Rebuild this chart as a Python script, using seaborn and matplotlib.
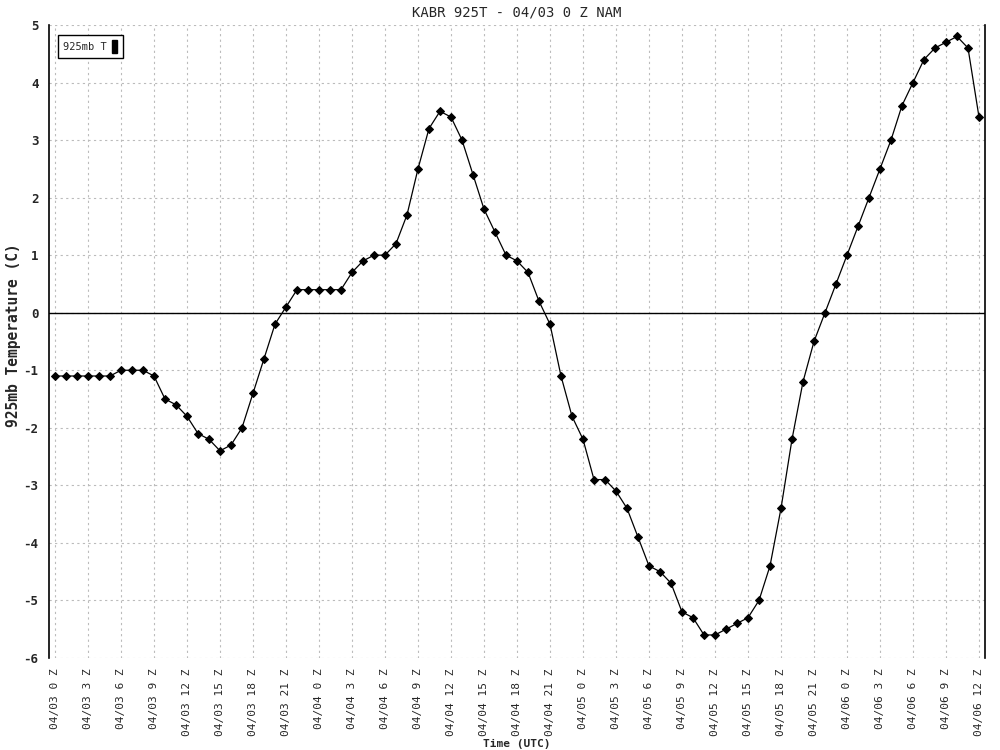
import numpy as np
import pandas as pd
import matplotlib
matplotlib.use("Agg")
import matplotlib.pyplot as plt
import seaborn as sns
from matplotlib.patches import Patch

# hourly 925mb temperatures, 04/03 0Z .. 04/06 12Z
temps = [-1.1, -1.1, -1.1, -1.1, -1.1, -1.1, -1.0, -1.0, -1.0, -1.1,
         -1.5, -1.6, -1.8, -2.1, -2.2, -2.4, -2.3, -2.0, -1.4, -0.8,
         -0.2, 0.1, 0.4, 0.4, 0.4, 0.4, 0.4, 0.7, 0.9, 1.0,
         1.0, 1.2, 1.7, 2.5, 3.2, 3.5, 3.4, 3.0, 2.4, 1.8,
         1.4, 1.0, 0.9, 0.7, 0.2, -0.2, -1.1, -1.8, -2.2, -2.9,
         -2.9, -3.1, -3.4, -3.9, -4.4, -4.5, -4.7, -5.2, -5.3, -5.6,
         -5.6, -5.5, -5.4, -5.3, -5.0, -4.4, -3.4, -2.2, -1.2, -0.5,
         0.0, 0.5, 1.0, 1.5, 2.0, 2.5, 3.0, 3.6, 4.0, 4.4,
         4.6, 4.7, 4.8, 4.6, 3.4]
hours = list(range(len(temps)))
days = ["04/03", "04/04", "04/05", "04/06"]

tick_pos = list(range(0, 85, 3))
tick_labels = [f"{days[h // 24]} {h % 24} Z" for h in tick_pos]

df = pd.DataFrame({"hour": hours, "temp": temps})

sns.set_style("white")
plt.rcParams["font.family"] = ["DejaVu Sans Mono"]

fig = plt.figure(figsize=(10, 7.5), dpi=100)
ax = fig.add_axes([0.049, 0.1227, 0.936, 0.844])

sns.lineplot(data=df, x="hour", y="temp", ax=ax, color="black",
             linewidth=0.9, marker="D", markersize=4.5, markeredgecolor="black")
ax.axhline(0, color="black", linewidth=1)

ax.set_xlim(-0.545, 84.545)
ax.set_ylim(-6, 5)
ax.set_xticks(tick_pos)
ax.set_xticklabels(tick_labels, rotation=90, fontsize=8)
ax.set_yticks(range(-6, 6))
ax.set_yticklabels([str(v) for v in range(-6, 6)], fontsize=9, fontweight="bold")
ax.tick_params(axis="both", direction="inout", length=8, width=1, color="black")
ax.grid(True, color="#bbbbbb", linestyle=(0, (2, 3)), linewidth=0.8)

for side in ["top", "bottom"]:
    ax.spines[side].set_visible(False)
for side in ["left", "right"]:
    ax.spines[side].set_color("black")
    ax.spines[side].set_linewidth(1.2)

ax.set_title("KABR 925T - 04/03 0 Z NAM", fontsize=10, pad=6)
ax.set_ylabel("925mb Temperature (C)", fontsize=10.5, fontweight="bold")
ax.yaxis.set_label_coords(-0.03, 0.51)
ax.set_xlabel("Time (UTC)", fontsize=8, fontweight="bold", labelpad=2)

leg = ax.legend(handles=[Patch(facecolor="black", edgecolor="black", label="925mb T")],
                loc="upper left", markerfirst=False, fontsize=7.5, fancybox=False,
                handlelength=0.5, handleheight=1.5, handletextpad=0.5, borderpad=0.5,
                framealpha=1, edgecolor="black", bbox_to_anchor=(0.004, 0.992))
leg.get_frame().set_linewidth(1)

fig.savefig("out.png", dpi=100)
